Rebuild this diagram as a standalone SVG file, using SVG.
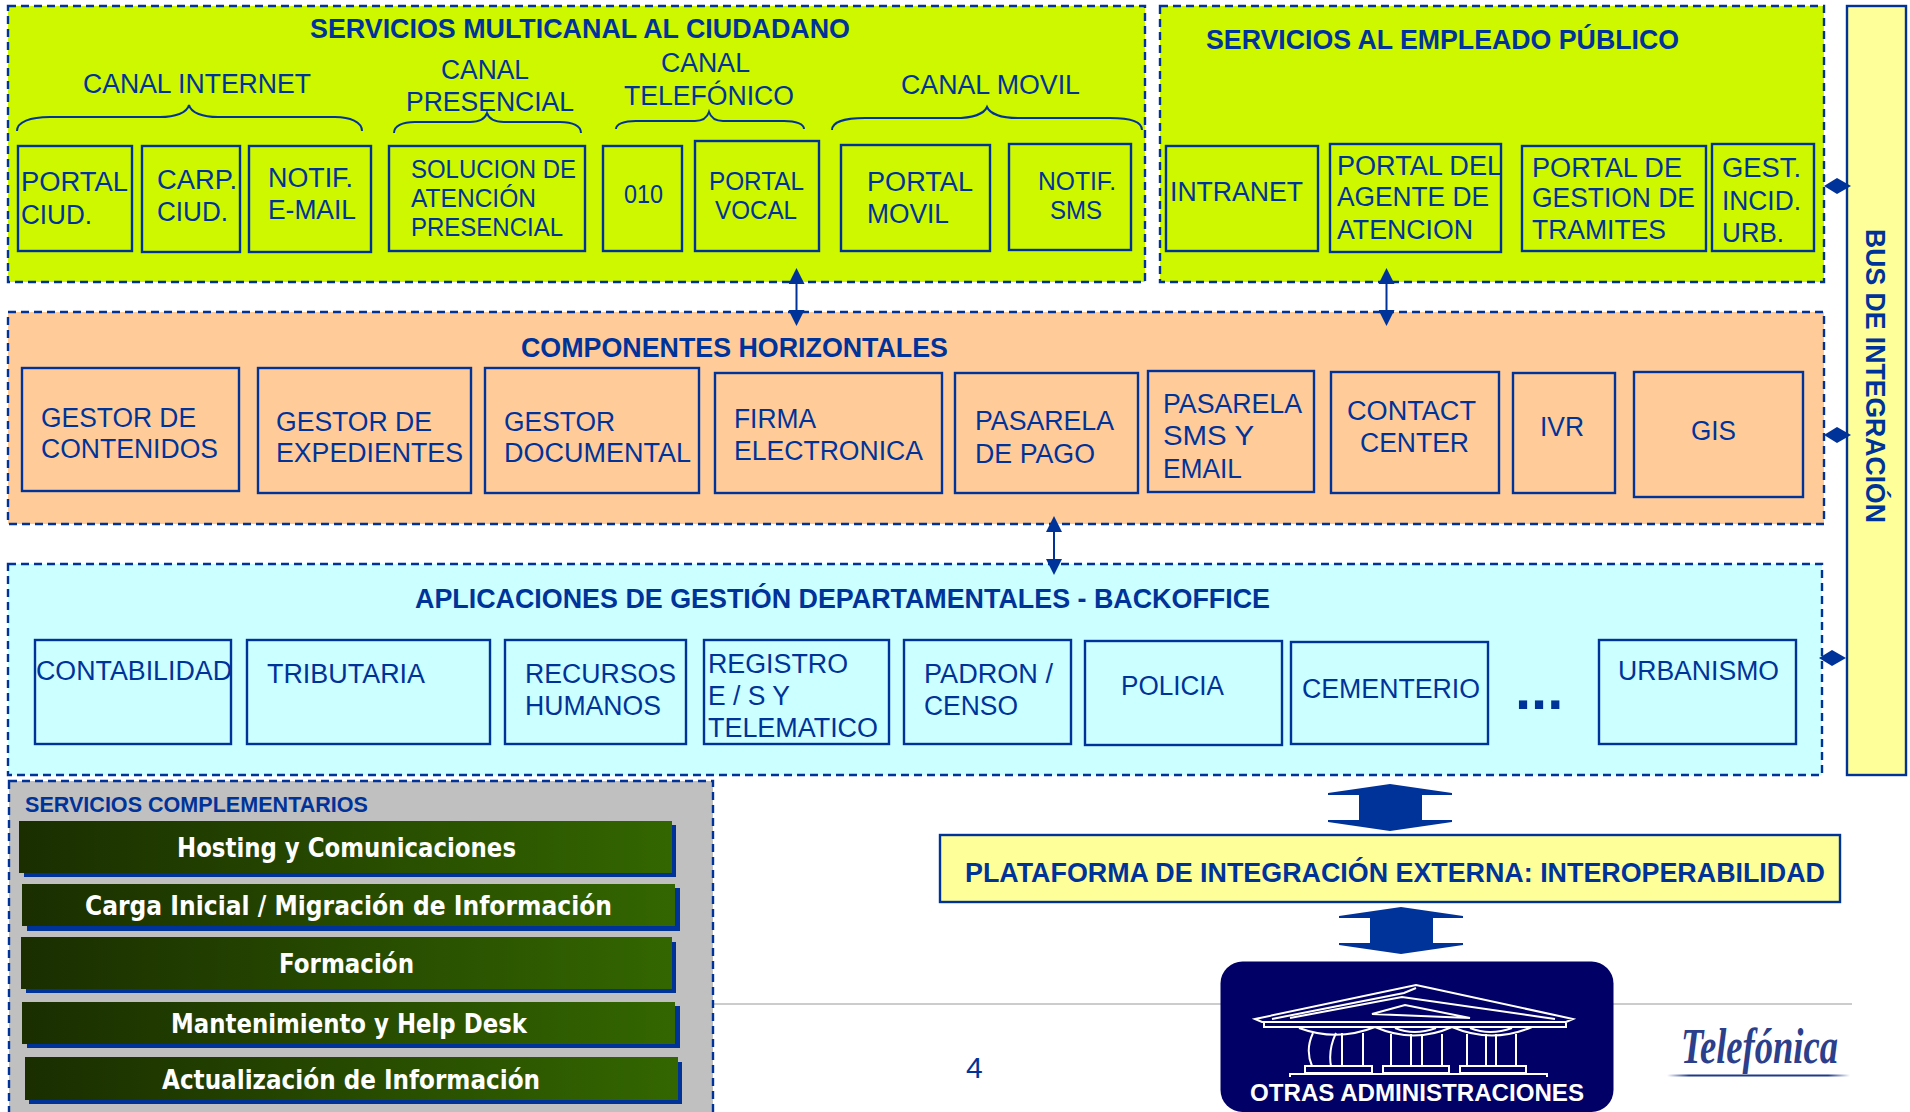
<svg xmlns="http://www.w3.org/2000/svg" width="1910" height="1112" viewBox="0 0 1910 1112">
<style>
text{font-family:"Liberation Sans",Arial,sans-serif;fill:#003399;font-size:27px}
.s{font-size:25px}
.t{font-weight:bold;font-size:27px}
.p{stroke:#003399;stroke-width:2.4;stroke-dasharray:8 5}
.n{fill:none;stroke:#003399;stroke-width:2.4}
.y{fill:#ffff99}
.bar{font-family:"DejaVu Sans",Verdana,sans-serif;font-weight:bold;font-size:26px;fill:#fff}
.sh{fill:#003399}
.b{fill:none;stroke:#003399;stroke-width:2}
.tp{fill:none;stroke:#fff;stroke-width:2}
</style>
<defs>
<linearGradient id="g"><stop offset="0" stop-color="#1a2e00"/><stop offset="1" stop-color="#336600"/></linearGradient>
<linearGradient id="u"><stop offset="0" stop-color="#1f3a8a" stop-opacity="0"/><stop offset=".12" stop-color="#1f3a8a"/><stop offset=".88" stop-color="#1f3a8a"/><stop offset="1" stop-color="#1f3a8a" stop-opacity="0"/></linearGradient>
<marker id="ah" viewBox="0 0 16 16" refX="1" refY="8" markerWidth="16" markerHeight="16" markerUnits="userSpaceOnUse" orient="auto-start-reverse"><path d="M0 0L16 8L0 16Z" fill="#003399"/></marker>
</defs>
<rect width="1910" height="1112" fill="#fff"/>

<g id="panel-multicanal">
<rect class="p" x="8" y="6" width="1137" height="276" fill="#cef800"/>
<text class="t" x="310" y="38" textLength="540" lengthAdjust="spacingAndGlyphs">SERVICIOS MULTICANAL AL CIUDADANO</text>
<text x="83" y="93" textLength="228" lengthAdjust="spacingAndGlyphs">CANAL INTERNET</text>
<text x="441" y="79" textLength="88" lengthAdjust="spacingAndGlyphs">CANAL</text>
<text x="406" y="111" textLength="168" lengthAdjust="spacingAndGlyphs">PRESENCIAL</text>
<text x="661" y="72" textLength="89" lengthAdjust="spacingAndGlyphs">CANAL</text>
<text x="624" y="105" textLength="170" lengthAdjust="spacingAndGlyphs">TELEFÓNICO</text>
<text x="901" y="94" textLength="179" lengthAdjust="spacingAndGlyphs">CANAL MOVIL</text>
<path class="b" d="M17 131C17 122 30 117 50 117L160 117C175 117 187 113 189 105C191 113 203 117 218 117L335 117C350 117 362 122 362 131"/>
<path class="b" d="M394 133C394 126 402 122 415 122L470 122C480 122 485 119 487 113C489 119 494 122 504 122L560 122C573 122 581 126 581 133"/>
<path class="b" d="M616 129C616 124 624 121 636 121L695 121C703 121 707 118 709 112C711 118 715 121 723 121L784 121C796 121 804 124 804 129"/>
<path class="b" d="M832 130C832 122 845 118 865 118L955 118C972 118 984 114 987 107C990 114 1002 118 1019 118L1110 118C1130 118 1142 122 1142 130"/>
</g>
<g id="n-portal-ciud"><rect class="n" x="18" y="146" width="114" height="105"/><text x="21" y="191" textLength="107" lengthAdjust="spacingAndGlyphs">PORTAL</text><text x="21" y="224" textLength="71" lengthAdjust="spacingAndGlyphs">CIUD.</text></g>
<g id="n-carp"><rect class="n" x="142" y="146" width="98" height="106"/><text x="157" y="189" textLength="80" lengthAdjust="spacingAndGlyphs">CARP.</text><text x="157" y="221" textLength="71" lengthAdjust="spacingAndGlyphs">CIUD.</text></g>
<g id="n-notif-email"><rect class="n" x="249" y="146" width="122" height="106"/><text x="268" y="187" textLength="85" lengthAdjust="spacingAndGlyphs">NOTIF.</text><text x="268" y="219" textLength="88" lengthAdjust="spacingAndGlyphs">E-MAIL</text></g>
<g id="n-solucion"><rect class="n" x="389" y="146" width="196" height="105"/><text class="s" x="411" y="178" textLength="165" lengthAdjust="spacingAndGlyphs">SOLUCION DE</text><text class="s" x="411" y="207" textLength="125" lengthAdjust="spacingAndGlyphs">ATENCIÓN</text><text class="s" x="411" y="236" textLength="152" lengthAdjust="spacingAndGlyphs">PRESENCIAL</text></g>
<g id="n-010"><rect class="n" x="603" y="146" width="79" height="105"/><text class="s" x="624" y="203" textLength="39" lengthAdjust="spacingAndGlyphs">010</text></g>
<g id="n-portal-vocal"><rect class="n" x="695" y="141" width="124" height="110"/><text class="s" x="709" y="190" textLength="95" lengthAdjust="spacingAndGlyphs">PORTAL</text><text class="s" x="715" y="219" textLength="82" lengthAdjust="spacingAndGlyphs">VOCAL</text></g>
<g id="n-portal-movil"><rect class="n" x="841" y="145" width="149" height="106"/><text x="867" y="191" textLength="106" lengthAdjust="spacingAndGlyphs">PORTAL</text><text x="867" y="223" textLength="82" lengthAdjust="spacingAndGlyphs">MOVIL</text></g>
<g id="n-notif-sms"><rect class="n" x="1009" y="144" width="122" height="106"/><text class="s" x="1038" y="190" textLength="78" lengthAdjust="spacingAndGlyphs">NOTIF.</text><text class="s" x="1050" y="219" textLength="52" lengthAdjust="spacingAndGlyphs">SMS</text></g>

<g id="panel-empleado">
<rect class="p" x="1160" y="6" width="664" height="276" fill="#cef800"/>
<text class="t" x="1206" y="49" textLength="473" lengthAdjust="spacingAndGlyphs">SERVICIOS AL EMPLEADO PÚBLICO</text>
</g>
<g id="n-intranet"><rect class="n" x="1166" y="146" width="152" height="105"/><text x="1170" y="201" textLength="133" lengthAdjust="spacingAndGlyphs">INTRANET</text></g>
<g id="n-portal-agente"><rect class="n" x="1330" y="144" width="171" height="108"/><text x="1337" y="175" textLength="165" lengthAdjust="spacingAndGlyphs">PORTAL DEL</text><text x="1337" y="206" textLength="152" lengthAdjust="spacingAndGlyphs">AGENTE DE</text><text x="1337" y="239" textLength="136" lengthAdjust="spacingAndGlyphs">ATENCION</text></g>
<g id="n-portal-tramites"><rect class="n" x="1522" y="146" width="184" height="105"/><text x="1532" y="177" textLength="150" lengthAdjust="spacingAndGlyphs">PORTAL DE</text><text x="1532" y="207" textLength="163" lengthAdjust="spacingAndGlyphs">GESTION DE</text><text x="1532" y="239" textLength="134" lengthAdjust="spacingAndGlyphs">TRAMITES</text></g>
<g id="n-gest"><rect class="n" x="1712" y="144" width="102" height="107"/><text x="1722" y="177" textLength="79" lengthAdjust="spacingAndGlyphs">GEST.</text><text x="1722" y="210" textLength="79" lengthAdjust="spacingAndGlyphs">INCID.</text><text x="1722" y="242" textLength="62" lengthAdjust="spacingAndGlyphs">URB.</text></g>

<g id="panel-horizontales">
<rect class="p" x="8" y="312" width="1816" height="212" fill="#ffcc99"/>
<text class="t" x="521" y="357" textLength="427" lengthAdjust="spacingAndGlyphs">COMPONENTES HORIZONTALES</text>
</g>
<g id="n-contenidos"><rect class="n" x="22" y="368" width="217" height="123"/><text x="41" y="427" textLength="155" lengthAdjust="spacingAndGlyphs">GESTOR DE</text><text x="41" y="458" textLength="177" lengthAdjust="spacingAndGlyphs">CONTENIDOS</text></g>
<g id="n-expedientes"><rect class="n" x="258" y="368" width="213" height="125"/><text x="276" y="431" textLength="156" lengthAdjust="spacingAndGlyphs">GESTOR DE</text><text x="276" y="462" textLength="187" lengthAdjust="spacingAndGlyphs">EXPEDIENTES</text></g>
<g id="n-documental"><rect class="n" x="485" y="368" width="214" height="125"/><text x="504" y="431" textLength="111" lengthAdjust="spacingAndGlyphs">GESTOR</text><text x="504" y="462" textLength="187" lengthAdjust="spacingAndGlyphs">DOCUMENTAL</text></g>
<g id="n-firma"><rect class="n" x="715" y="373" width="227" height="120"/><text x="734" y="428" textLength="82" lengthAdjust="spacingAndGlyphs">FIRMA</text><text x="734" y="460" textLength="189" lengthAdjust="spacingAndGlyphs">ELECTRONICA</text></g>
<g id="n-pasarela-pago"><rect class="n" x="955" y="373" width="183" height="120"/><text x="975" y="430" textLength="139" lengthAdjust="spacingAndGlyphs">PASARELA</text><text x="975" y="463" textLength="120" lengthAdjust="spacingAndGlyphs">DE PAGO</text></g>
<g id="n-pasarela-sms"><rect class="n" x="1148" y="371" width="166" height="121"/><text x="1163" y="413" textLength="139" lengthAdjust="spacingAndGlyphs">PASARELA</text><text x="1163" y="445" textLength="91" lengthAdjust="spacingAndGlyphs">SMS Y</text><text x="1163" y="478" textLength="79" lengthAdjust="spacingAndGlyphs">EMAIL</text></g>
<g id="n-contact"><rect class="n" x="1331" y="372" width="168" height="121"/><text x="1347" y="420" textLength="129" lengthAdjust="spacingAndGlyphs">CONTACT</text><text x="1360" y="452" textLength="109" lengthAdjust="spacingAndGlyphs">CENTER</text></g>
<g id="n-ivr"><rect class="n" x="1513" y="373" width="102" height="120"/><text x="1540" y="436" textLength="44" lengthAdjust="spacingAndGlyphs">IVR</text></g>
<g id="n-gis"><rect class="n" x="1634" y="372" width="169" height="125"/><text x="1691" y="440" textLength="45" lengthAdjust="spacingAndGlyphs">GIS</text></g>

<g id="panel-backoffice">
<rect class="p" x="8" y="564" width="1814" height="211" fill="#ccffff"/>
<text class="t" x="415" y="608" textLength="855" lengthAdjust="spacingAndGlyphs">APLICACIONES DE GESTIÓN DEPARTAMENTALES - BACKOFFICE</text>
<text x="1515" y="709" style="font-size:58px;font-weight:bold">...</text>
</g>
<g id="n-contabilidad"><rect class="n" x="35" y="640" width="196" height="104"/><text x="36" y="680" textLength="196" lengthAdjust="spacingAndGlyphs">CONTABILIDAD</text></g>
<g id="n-tributaria"><rect class="n" x="247" y="640" width="243" height="104"/><text x="267" y="683" textLength="158" lengthAdjust="spacingAndGlyphs">TRIBUTARIA</text></g>
<g id="n-rrhh"><rect class="n" x="505" y="640" width="181" height="104"/><text x="525" y="683" textLength="151" lengthAdjust="spacingAndGlyphs">RECURSOS</text><text x="525" y="715" textLength="136" lengthAdjust="spacingAndGlyphs">HUMANOS</text></g>
<g id="n-registro"><rect class="n" x="704" y="640" width="185" height="104"/><text x="708" y="673" textLength="140" lengthAdjust="spacingAndGlyphs">REGISTRO</text><text x="708" y="705" textLength="82" lengthAdjust="spacingAndGlyphs">E / S Y</text><text x="708" y="737" textLength="170" lengthAdjust="spacingAndGlyphs">TELEMATICO</text></g>
<g id="n-padron"><rect class="n" x="904" y="640" width="167" height="104"/><text x="924" y="683" textLength="129" lengthAdjust="spacingAndGlyphs">PADRON /</text><text x="924" y="715" textLength="94" lengthAdjust="spacingAndGlyphs">CENSO</text></g>
<g id="n-policia"><rect class="n" x="1085" y="641" width="197" height="104"/><text x="1121" y="695" textLength="103" lengthAdjust="spacingAndGlyphs">POLICIA</text></g>
<g id="n-cementerio"><rect class="n" x="1291" y="642" width="197" height="102"/><text x="1302" y="698" textLength="178" lengthAdjust="spacingAndGlyphs">CEMENTERIO</text></g>
<g id="n-urbanismo"><rect class="n" x="1599" y="640" width="197" height="104"/><text x="1618" y="680" textLength="161" lengthAdjust="spacingAndGlyphs">URBANISMO</text></g>

<g id="n-bus"><rect class="n y" x="1847" y="6" width="59" height="769" style="fill:#ffff99"/><text class="t" transform="translate(1866 229) rotate(90)" textLength="294" lengthAdjust="spacingAndGlyphs">BUS DE INTEGRACIÓN</text></g>

<path d="M713 1004H1852" stroke="#cccccc" stroke-width="2" fill="none"/>

<g id="panel-complementarios">
<rect class="p" x="9" y="781" width="704" height="340" fill="#c0c0c0"/>
<text x="25" y="812" textLength="343" lengthAdjust="spacingAndGlyphs" style="font-size:22px;font-weight:bold">SERVICIOS COMPLEMENTARIOS</text>
</g>
<g id="n-hosting"><rect class="sh" x="24" y="825" width="652" height="52"/><rect x="19" y="821" width="653" height="52" fill="url(#g)"/><text class="bar" x="177" y="857" textLength="339" lengthAdjust="spacingAndGlyphs">Hosting y Comunicaciones</text></g>
<g id="n-carga"><rect class="sh" x="27" y="888" width="653" height="43"/><rect x="22" y="884" width="653" height="42" fill="url(#g)"/><text class="bar" x="85" y="915" textLength="527" lengthAdjust="spacingAndGlyphs">Carga Inicial / Migración de Información</text></g>
<g id="n-formacion"><rect class="sh" x="26" y="942" width="650" height="51"/><rect x="21" y="937" width="651" height="52" fill="url(#g)"/><text class="bar" x="279" y="973" textLength="135" lengthAdjust="spacingAndGlyphs">Formación</text></g>
<g id="n-mantenimiento"><rect class="sh" x="27" y="1006" width="653" height="42"/><rect x="22" y="1002" width="653" height="42" fill="url(#g)"/><text class="bar" x="171" y="1033" textLength="356" lengthAdjust="spacingAndGlyphs">Mantenimiento y Help Desk</text></g>
<g id="n-actualizacion"><rect class="sh" x="29" y="1062" width="653" height="42"/><rect x="25" y="1057" width="653" height="43" fill="url(#g)"/><text class="bar" x="162" y="1089" textLength="378" lengthAdjust="spacingAndGlyphs">Actualización de Información</text></g>

<g id="n-plataforma"><rect class="n" x="940" y="835" width="900" height="67" style="fill:#ffff99"/><text class="t" x="965" y="882" textLength="860" lengthAdjust="spacingAndGlyphs">PLATAFORMA DE INTEGRACIÓN EXTERNA: INTEROPERABILIDAD</text></g>

<g id="n-otras">
<rect x="1220.500" y="961.500" width="393" height="150.500" rx="22" fill="#000066"/>
<path class="tp" d="M1255 1019L1416 985L1430 988L1573 1019L1566 1022H1262ZM1272 1019L1404 993L1416 988M1290 1018L1402 997L1555 1019M1372 1014L1405 1005L1470 1018ZM1264 1022V1027H1566V1022M1299 1028Q1337 1042 1375 1027Q1414 1044 1452 1027Q1492 1044 1532 1027M1395 1028Q1414 1036 1436 1028M1470 1028Q1490 1036 1512 1028"/>
<path class="tp" d="M1313 1033Q1305 1050 1312 1066M1336 1033Q1328 1050 1331 1066M1342 1033V1066M1363 1033V1066M1391 1034V1066M1411 1034V1066M1422 1034V1066M1442 1034V1066M1467 1034V1066M1486 1034V1066M1496 1034V1066M1516 1034V1066M1305 1066H1372V1073H1305ZM1383 1066H1449V1073H1383ZM1460 1066H1526V1073H1460ZM1290 1077V1074H1547V1077"/>
<text x="1250" y="1101" textLength="334" lengthAdjust="spacingAndGlyphs" style="font-size:24px;font-weight:bold;fill:#fff">OTRAS ADMINISTRACIONES</text>
</g>

<g id="n-logo">
<text x="1681" y="1063" textLength="157" lengthAdjust="spacingAndGlyphs" style="font-family:'Liberation Serif',serif;font-style:italic;font-weight:bold;font-size:50px;fill:#2b3f8c">Telefónica</text>
<rect x="1667" y="1074.500" width="183" height="2" fill="url(#u)"/>
</g>
<text id="page" x="966" y="1078" style="font-size:30px">4</text>

<g id="connectors">
<path d="M796.500 283V311" class="b" marker-start="url(#ah)" marker-end="url(#ah)"/>
<path d="M1386.500 283V311" class="b" marker-start="url(#ah)" marker-end="url(#ah)"/>
<path d="M1054 531V560" class="b" marker-start="url(#ah)" marker-end="url(#ah)"/>
<path d="M1824 186L1837 178L1851 186L1837 194Z" fill="#003399"/>
<path d="M1824 435L1837 427L1851 435L1837 443Z" fill="#003399"/>
<path d="M1819 658L1832 650L1846 658L1832 666Z" fill="#003399"/>
<path d="M1390 784L1452 793V795H1422V820H1452V822L1390 831L1328 822V820H1359V795H1328V793Z" fill="#003399"/>
<path d="M1401 907L1463 916V918H1433V943H1463V945L1401 954L1339 945V943H1370V918H1339V916Z" fill="#003399"/>
</g>
</svg>
